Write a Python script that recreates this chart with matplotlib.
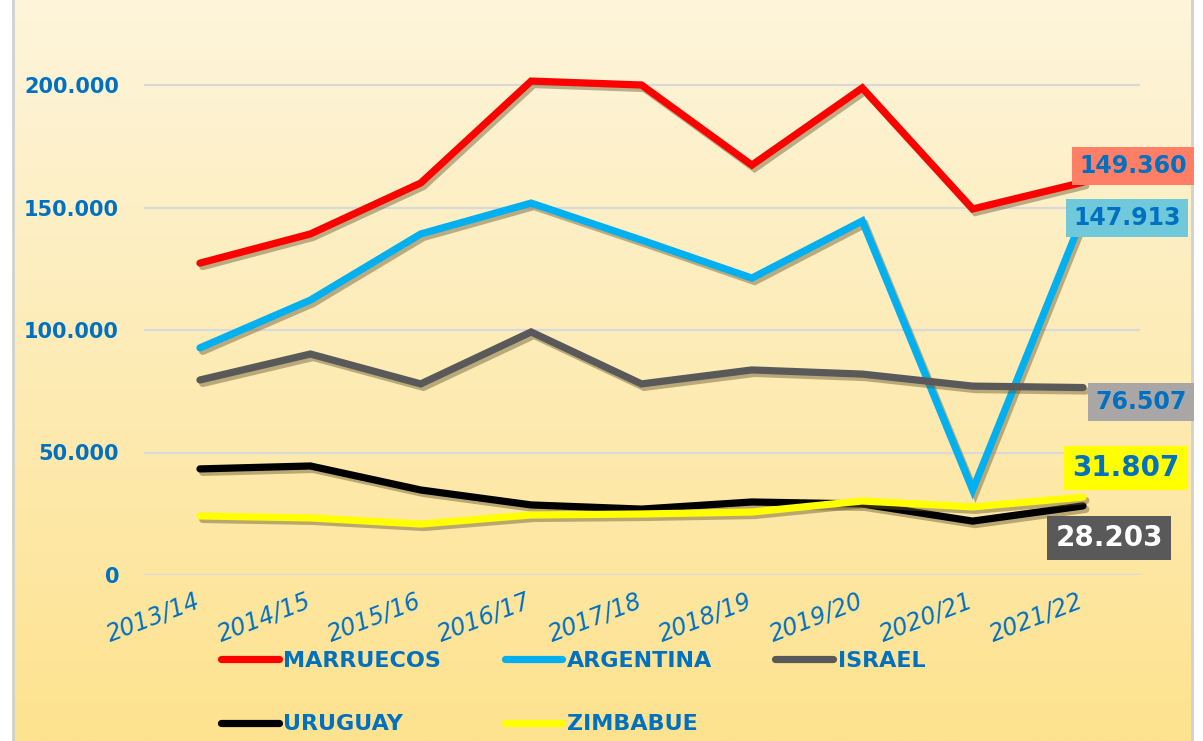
import numpy as np
import matplotlib
matplotlib.use("Agg")
import matplotlib.pyplot as plt
import matplotlib.patheffects as pe
import matplotlib.transforms as mtransforms
from matplotlib.lines import Line2D
from matplotlib.colors import LinearSegmentedColormap

seasons = ["2013/14", "2014/15", "2015/16", "2016/17", "2017/18",
           "2018/19", "2019/20", "2020/21", "2021/22"]
marruecos = [127300, 139200, 160000, 201600, 200000, 167300, 198800, 149400, 160300]
argentina = [92700, 112200, 139200, 151800, 136700, 121200, 144500, 34700, 146500]
israel = [79600, 90200, 78000, 99200, 78000, 83700, 82000, 77100, 76507]
uruguay = [43300, 44500, 34700, 28600, 26900, 29800, 29000, 22000, 28203]
zimbabue = [24100, 23300, 20800, 24500, 24900, 25700, 30200, 27800, 31807]
end_labels = ["149.360", "147.913", "76.507", "31.807", "28.203"]
yticks = [0, 50000, 100000, 150000, 200000]
ytick_labels = ["0", "50.000", "100.000", "150.000", "200.000"]

BLUE = "#0070C0"
W, H = 1203, 741
fig = plt.figure(figsize=(W / 100, H / 100), dpi=100)
fig.patch.set_facecolor("white")

# background gradient panel
bg = fig.add_axes([13 / W, 0, (1192 - 13) / W, 1], zorder=-5)
grad = np.linspace(0, 1, 256).reshape(-1, 1)
cmap = LinearSegmentedColormap.from_list("g", ["#FEF5DB", "#FDE28F"])
bg.imshow(grad, aspect="auto", cmap=cmap, extent=[0, 1, 0, 1], origin="upper")
bg.set_xticks([]); bg.set_yticks([])
for s in ["top", "bottom"]:
    bg.spines[s].set_visible(False)
for s in ["left", "right"]:
    bg.spines[s].set_color("#D0D0D0")
    bg.spines[s].set_linewidth(2)

ax = fig.add_axes([144 / W, 1 - 575 / H, (1140 - 144) / W, (575 - 30) / H])
ax.set_facecolor("none")
x = np.arange(len(seasons))
ax.set_xlim(-0.507, 8.516)
ax.set_ylim(0, 545 / 2.45 * 1000)

series = [
    ("MARRUECOS", marruecos, "#FF0000"),
    ("ARGENTINA", argentina, "#00B0F0"),
    ("ISRAEL", israel, "#595959"),
    ("URUGUAY", uruguay, "#000000"),
    ("ZIMBABUE", zimbabue, "#FFFF00"),
]
handles = {}
shadow = [pe.SimpleLineShadow(offset=(2, -2.5), shadow_color="#6A5A30", alpha=0.45), pe.Normal()]
for name, vals, col in series:
    ax.plot(x, vals, color=col, lw=5.2, solid_capstyle="round",
            solid_joinstyle="miter", path_effects=shadow, zorder=3)
    handles[name] = Line2D([], [], color=col, lw=5.2, solid_capstyle="round")

for s in ax.spines.values():
    s.set_visible(False)
ax.set_yticks(yticks)
ax.set_yticklabels(ytick_labels)
ax.grid(axis="y", color="#D9D9D9", lw=1.6, zorder=0)
ax.tick_params(axis="y", length=0, pad=18, labelsize=15, labelcolor=BLUE)
for t in ax.get_yticklabels():
    t.set_fontweight("bold")
ax.set_xticks(x)
ax.set_xticklabels(seasons, rotation=21, ha="right", rotation_mode="anchor",
                   fontsize=17, color=BLUE, fontstyle="italic")
ax.tick_params(axis="x", length=0, pad=10)
off = mtransforms.ScaledTranslation(-5 / 100, 0, fig.dpi_scale_trans)
for t in ax.get_xticklabels():
    t.set_transform(t.get_transform() + off)

# end labels (box positions in pixels)
box_specs = [
    (end_labels[0], 1133, 166, "#FF7F66", BLUE, 17),
    (end_labels[1], 1127, 218, "#70C9DA", BLUE, 17),
    (end_labels[2], 1141, 402, "#ABA6A6", BLUE, 17),
    (end_labels[3], 1126, 468, "#FFFF00", BLUE, 20),
    (end_labels[4], 1109, 538, "#595959", "white", 20),
]
for txt, px, py, fc, tc, fs in box_specs:
    fig.text(px / W, 1 - py / H, txt, ha="center", va="center", fontsize=fs,
             color=tc, fontweight="bold",
             bbox=dict(boxstyle="square,pad=0.3", fc=fc, ec="none"))

order = ["MARRUECOS", "URUGUAY", "ARGENTINA", "ZIMBABUE", "ISRAEL"]
leg = fig.legend([handles[n] for n in order], order, loc="upper left",
                 bbox_to_anchor=(210 / W, 1 - 640 / H), ncol=3, frameon=False,
                 prop={"weight": "bold", "size": 16},
                 handlelength=2.6, handletextpad=0.2,
                 columnspacing=2.85, labelspacing=1.95, borderpad=0)
for t in leg.get_texts():
    t.set_color(BLUE)

fig.savefig("out.png", dpi=100, facecolor=fig.get_facecolor())
